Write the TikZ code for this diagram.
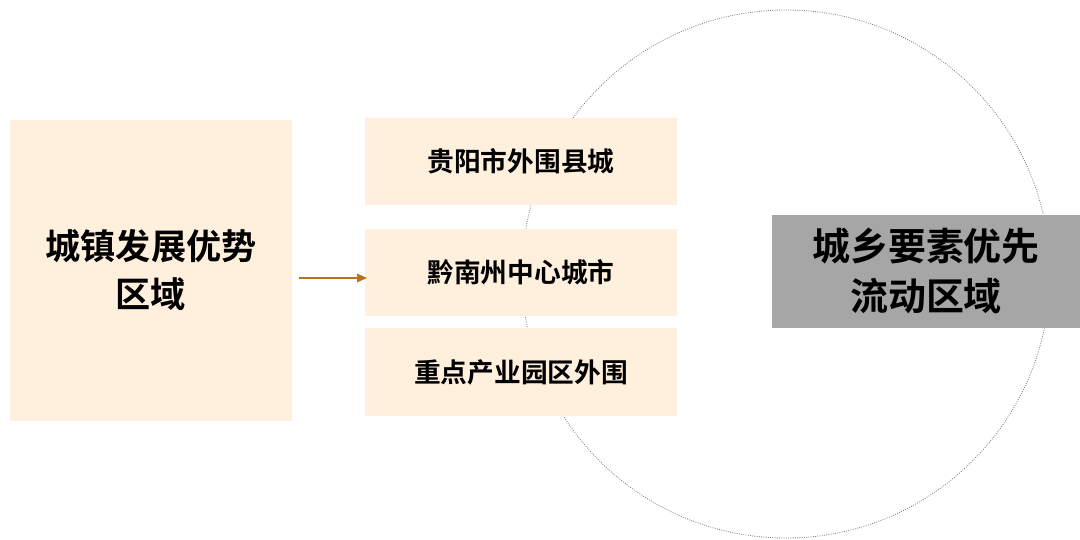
\documentclass[tikz,border=0pt]{standalone}
\usepackage{fontspec}
\usetikzlibrary{arrows.meta}
\newfontfamily\cjk{Noto Sans CJK SC}[BoldFont={* Bold}]
\definecolor{peach}{HTML}{FFF0DD}
\definecolor{grayb}{HTML}{A6A6A6}
\definecolor{arr}{HTML}{B8731A}
\begin{document}
\begin{tikzpicture}[x=0.025cm,y=-0.025cm,
  box/.style={fill=peach,draw=none,inner sep=0,font=\cjk\bfseries\fontsize{19}{22}\selectfont},
  bigtxt/.style={align=center,font=\cjk\bfseries\fontsize{25}{34}\selectfont}]
\useasboundingbox (0,0) rectangle (1080,540);
\fill[white] (0,0) rectangle (1080,540);
\draw[gray,densely dotted,line width=0.6pt] (786,274) circle (264);
\fill[peach] (10,120) rectangle (292,421);
\node[bigtxt] (L) at (151,270) {城镇发展优势\\区域};
\fill[peach] (365,118) rectangle (677,205);
\fill[peach] (365,229) rectangle (677,316);
\fill[peach] (365,328) rectangle (677,416);
\node[box] (a) at (521,161) {贵阳市外围县城};
\node[box] (b) at (521,272) {黔南州中心城市};
\node[box] (c) at (521,372) {重点产业园区外围};
\coordinate (s) at (299,278);
\coordinate (e) at (367,278);
\draw[arr,line width=0.9pt,-{Triangle[length=7pt,width=6pt]}] (s) -- (e);
\fill[grayb] (772,215) rectangle (1080,328);
\node[bigtxt,font=\cjk\bfseries\fontsize{27}{36}\selectfont] (R) at (926,271) {城乡要素优先\\流动区域};
\end{tikzpicture}
\end{document}
